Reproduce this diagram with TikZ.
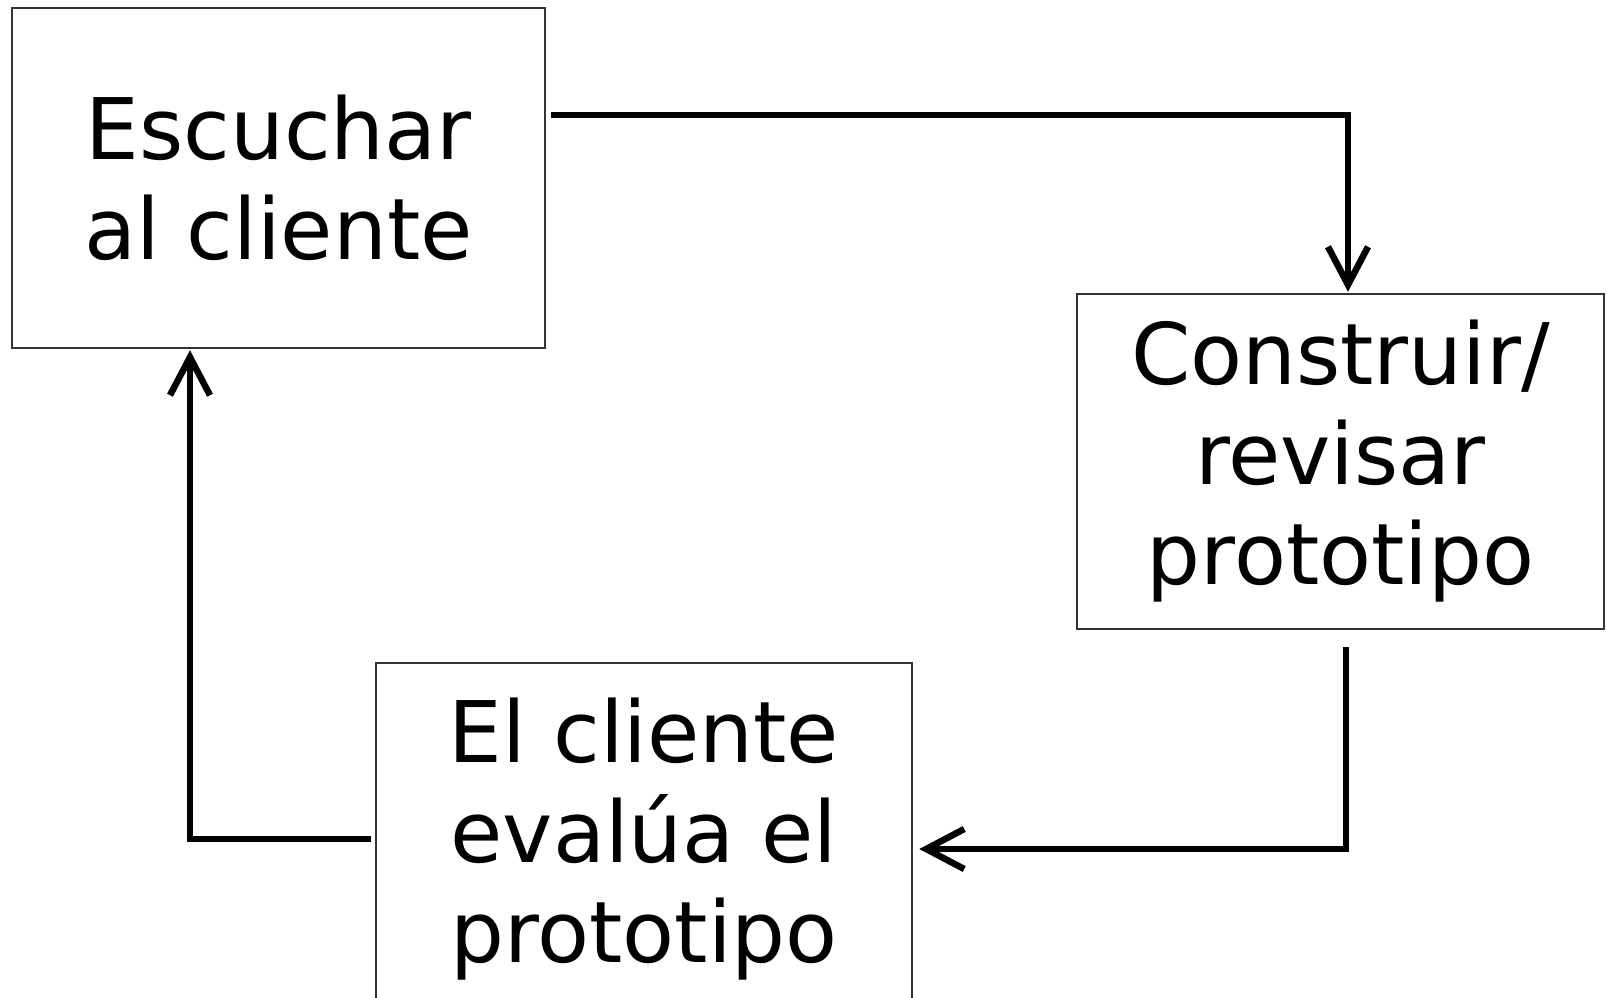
\documentclass[tikz,border=0pt]{standalone}
\usepackage{fontspec}
\setmainfont{DejaVu Sans}
\usetikzlibrary{arrows.meta}
\tikzset{
  boxnode/.style={draw=black!80, line width=1.25pt, fill=white, align=center, inner sep=0pt,
    font=\fontsize{42.5pt}{50pt}\selectfont},
  arr/.style={line width=3.25pt, -{Straight Barb[length=19pt,width=20pt,line width=3.25pt]}, line join=miter}
}
\begin{document}
\begin{tikzpicture}[x=0.5pt,y=-0.5pt]
\useasboundingbox (0,0) rectangle (1607,997);
\clip (0,0) rectangle (1607,997);
\fill[white] (0,0) rectangle (1607,997);
\node[boxnode, minimum width=266.5pt, minimum height=170pt] (b1) at (278.5,178) {Escuchar\\al cliente};
\node[boxnode, minimum width=263.5pt, minimum height=167.5pt] (b2) at (1340.5,461.5) {Construir/\\revisar\\prototipo};
\node[boxnode, minimum width=268pt, minimum height=176pt] (b3) at (644,839) {El cliente\\evalúa el\\prototipo};
\draw[arr] ([xshift=2.5pt]b1.east |- 0,115) -| ([xshift=3.75pt,yshift=0.5pt]b2.north);
\draw[arr] ([xshift=2.75pt,yshift=-8.5pt]b2.south) |- ([xshift=3pt,yshift=-5pt]b3.east);
\draw[arr] ([xshift=-2pt]b3.west) -| ([xshift=-44.25pt,yshift=-0.5pt]b1.south);
\end{tikzpicture}
\end{document}
